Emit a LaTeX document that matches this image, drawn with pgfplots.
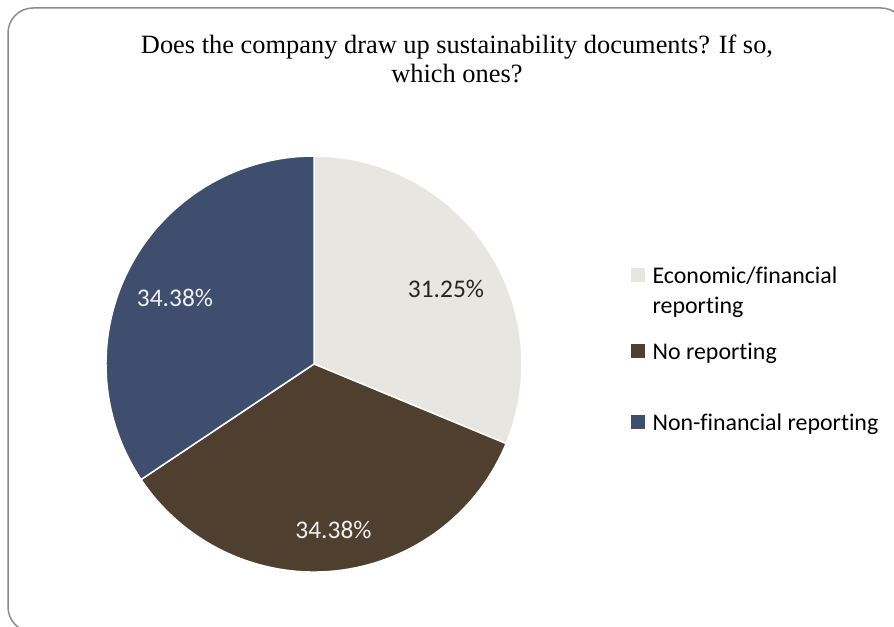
\documentclass[border=0pt]{standalone}
\usepackage{pgfplots}
\pgfplotsset{compat=1.18}
\usepackage{pgfplotstable}
\usepackage{fontspec}
\setmainfont{Liberation Serif}
\newfontfamily\calib[Ligatures=NoCommon]{Carlito}
\definecolor{ecoC}{HTML}{E8E6E1}
\definecolor{noC}{HTML}{4F3F2E}
\definecolor{nonC}{HTML}{3F4E6E}
\definecolor{frameC}{HTML}{8C8C8C}

% share (%), slice colour, label position (x,y), label colour, label
\pgfplotstableread[col sep=comma]{
share,color,lx,ly,tcol,lab
31.25,ecoC,446,338,black!85,31.25
34.375,noC,333.5,97,white!94!black,34.38
34.375,nonC,175,329,white!94!black,34.38
}\piedata

\begin{document}
\begin{tikzpicture}
\path[use as bounding box] (0,0) rectangle (894bp,627bp);
\clip (0,0) rectangle (894bp,627bp);
\begin{axis}[
  at={(0,0)}, anchor=origin,
  x=1bp, y=1bp, xmin=0, xmax=894, ymin=0, ymax=627,
  hide axis, clip=false,
  legend cell align=left,
  legend style={draw=none, fill=none, at={(axis cs:631,366)}, anchor=north west,
    inner sep=0pt,
    font=\calib\fontsize{24}{30}\selectfont, row sep=0bp, column sep=6bp,
    cells={align=left, anchor=base west, inner sep=0pt}},
]
% frame
\draw[frameC, line width=1.5bp, rounded corners=25bp] (axis cs:8,619) rectangle (axis cs:906,-5);
% title
\node[align=center, anchor=base, font=\fontsize{26.5}{30}\selectfont] at (axis cs:457,544)
  {Does the company draw up sustainability documents? If so,\\which ones?};
% pie slices from the table
\pgfplotstablegetrowsof{\piedata}
\pgfmathtruncatemacro\lastrow{\pgfplotsretval-1}
\gdef\angA{90}
\pgfplotsforeachungrouped \i in {0,...,\lastrow}{%
  \pgfplotstablegetelem{\i}{share}\of\piedata\let\val\pgfplotsretval
  \pgfplotstablegetelem{\i}{color}\of\piedata\let\col\pgfplotsretval
  \pgfmathsetmacro\angB{\angA-3.6*\val}
  \pgfmathsetmacro\sx{314+208*cos(\angA)}
  \pgfmathsetmacro\sy{263+208*sin(\angA)}
  \edef\temp{\noexpand\fill[\col, draw=white, line width=1.5bp, line join=round]
    (axis cs:314,263) -- (axis cs:\sx,\sy) arc[start angle=\angA, end angle=\angB, radius=208bp] -- cycle;}
  \temp
  \global\let\angA\angB
}
% labels
\pgfplotsforeachungrouped \i in {0,...,\lastrow}{%
  \pgfplotstablegetelem{\i}{lx}\of\piedata\let\lx\pgfplotsretval
  \pgfplotstablegetelem{\i}{ly}\of\piedata\let\ly\pgfplotsretval
  \pgfplotstablegetelem{\i}{tcol}\of\piedata\let\tc\pgfplotsretval
  \pgfplotstablegetelem{\i}{lab}\of\piedata\let\lab\pgfplotsretval
  \edef\temp{\noexpand\node[text=\tc, font=\noexpand\calib\noexpand\fontsize{25.5}{30}\noexpand\selectfont]
    at (axis cs:\lx,\ly) {\lab\noexpand\%};}
  \temp
}
% legend
\addlegendimage{legend image code/.code={\fill[ecoC] (0bp,31.5bp) rectangle (13bp,44.5bp);}}
\addlegendentry[text height=50bp, text depth=10bp]{Economic/financial\\reporting}
\addlegendimage{legend image code/.code={\fill[noC] (0bp,1.5bp) rectangle (13bp,14.5bp);}}
\addlegendentry[text height=32bp, text depth=31bp]{No reporting}
\addlegendimage{legend image code/.code={\fill[nonC] (0bp,1.5bp) rectangle (13bp,14.5bp);}}
\addlegendentry[text height=36bp, text depth=10bp]{Non-financial reporting}
\end{axis}
\end{tikzpicture}
\end{document}
